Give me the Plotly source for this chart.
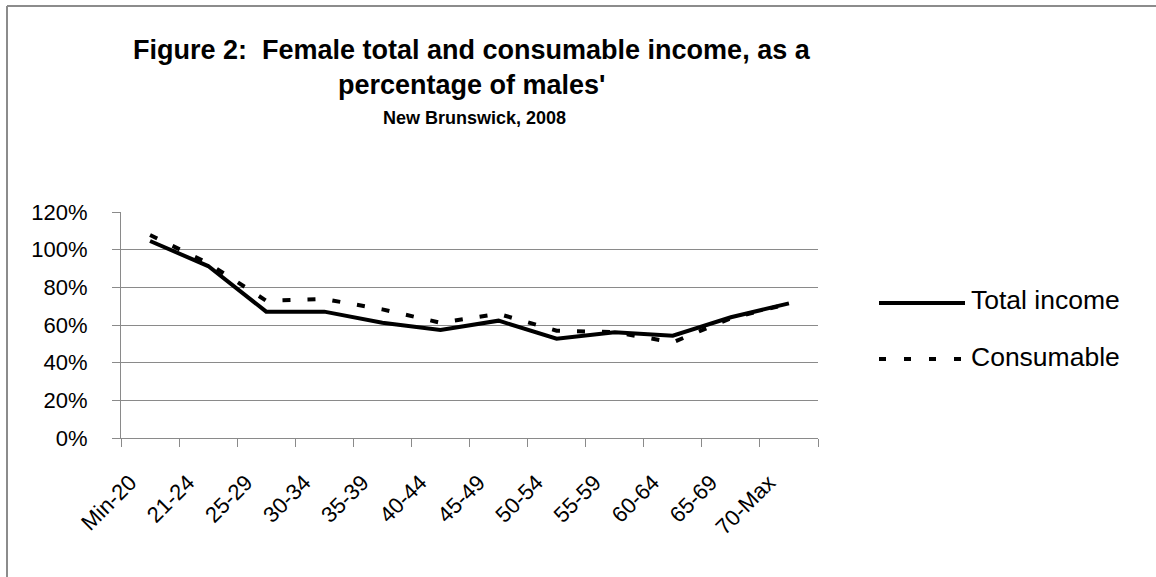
import plotly.graph_objects as go

# Age groups and female/male income ratios
age_groups = ["Min-20", "21-24", "25-29", "30-34", "35-39", "40-44",
              "45-49", "50-54", "55-59", "60-64", "65-69", "70-Max"]
total_income = [1.046, 0.913, 0.671, 0.671, 0.612, 0.574,
                0.623, 0.527, 0.561, 0.543, 0.641, 0.715]
consumable_income = [1.078, 0.928, 0.729, 0.738, 0.683, 0.612,
                     0.659, 0.570, 0.562, 0.508, 0.636, 0.713]
y_ticks = [0, 0.2, 0.4, 0.6, 0.8, 1.0, 1.2]

FONT = "Liberation Sans, Arial, sans-serif"
GRID = "#8a8a8a"

W, H = 1156, 577
L, R, T, B = 121, 338, 212, 139

fig = go.Figure()
fig.add_trace(go.Scatter(
    x=age_groups, y=total_income, mode="lines", name="Total income",
    line=dict(color="black", width=4), showlegend=False,
))
fig.add_trace(go.Scatter(
    x=age_groups, y=consumable_income, mode="lines", name="Consumable",
    line=dict(color="black", width=4, dash="8px,17px"), showlegend=False,
))

def px_x(v):
    return (v - L) / (W - L - R)

def px_y(v):
    return (H - B - v) / (H - T - B)

shapes = [
    # outer chart frame (top and left edges visible)
    dict(type="line", xref="paper", yref="paper",
         x0=px_x(7), x1=px_x(1170), y0=px_y(6), y1=px_y(6),
         line=dict(color="#8c8c8c", width=2)),
    dict(type="line", xref="paper", yref="paper",
         x0=px_x(7), x1=px_x(7), y0=px_y(6), y1=px_y(590),
         line=dict(color="#8c8c8c", width=2)),
    # legend samples
    dict(type="line", xref="paper", yref="paper",
         x0=px_x(879), x1=px_x(965), y0=px_y(303), y1=px_y(303),
         line=dict(color="black", width=4)),
    dict(type="line", xref="paper", yref="paper",
         x0=px_x(879), x1=px_x(965), y0=px_y(359), y1=px_y(359),
         line=dict(color="black", width=4, dash="7px,18px")),
]

annotations = [
    dict(text="<b>Figure 2:  Female total and consumable income, as a</b>",
         x=px_x(472), y=px_y(50), xref="paper", yref="paper",
         showarrow=False, font=dict(family=FONT, size=27, color="black"),
         xanchor="center", yanchor="middle"),
    dict(text="<b>percentage of males'</b>",
         x=px_x(472), y=px_y(85), xref="paper", yref="paper",
         showarrow=False, font=dict(family=FONT, size=27, color="black"),
         xanchor="center", yanchor="middle"),
    dict(text="<b>New Brunswick, 2008</b>",
         x=px_x(474), y=px_y(118), xref="paper", yref="paper",
         showarrow=False, font=dict(family=FONT, size=18, color="black"),
         xanchor="center", yanchor="middle"),
    dict(text="Total income",
         x=px_x(969), y=px_y(300), xref="paper", yref="paper",
         showarrow=False, font=dict(family=FONT, size=26.5, color="black"),
         xanchor="left", yanchor="middle"),
    dict(text="Consumable",
         x=px_x(969), y=px_y(357), xref="paper", yref="paper",
         showarrow=False, font=dict(family=FONT, size=26.5, color="black"),
         xanchor="left", yanchor="middle"),
]

fig.update_layout(
    width=W, height=H, autosize=False,
    margin=dict(l=L, r=R, t=T, b=B, pad=0),
    paper_bgcolor="white", plot_bgcolor="white",
    font=dict(family=FONT, color="black"),
    shapes=shapes, annotations=annotations,
    showlegend=False,
)
fig.update_xaxes(
    type="category", range=[-0.5, 11.5],
    showgrid=False, showline=True, linecolor=GRID, linewidth=1,
    ticks="outside", ticklen=8, tickcolor=GRID, tickson="boundaries",
    tickangle=-45, ticklabelstandoff=22, ticklabelshift=-20,
    tickfont=dict(family=FONT, size=22, color="black"),
)
fig.update_yaxes(
    range=[0, 1.2], tickvals=y_ticks, tickformat=".0%",
    showgrid=True, gridcolor=GRID, gridwidth=1,
    showline=True, linecolor=GRID, linewidth=1, zeroline=False,
    ticks="outside", ticklen=8, tickcolor=GRID,
    ticklabelstandoff=20,
    tickfont=dict(family=FONT, size=22, color="black"),
)

fig.write_html("out.html")
